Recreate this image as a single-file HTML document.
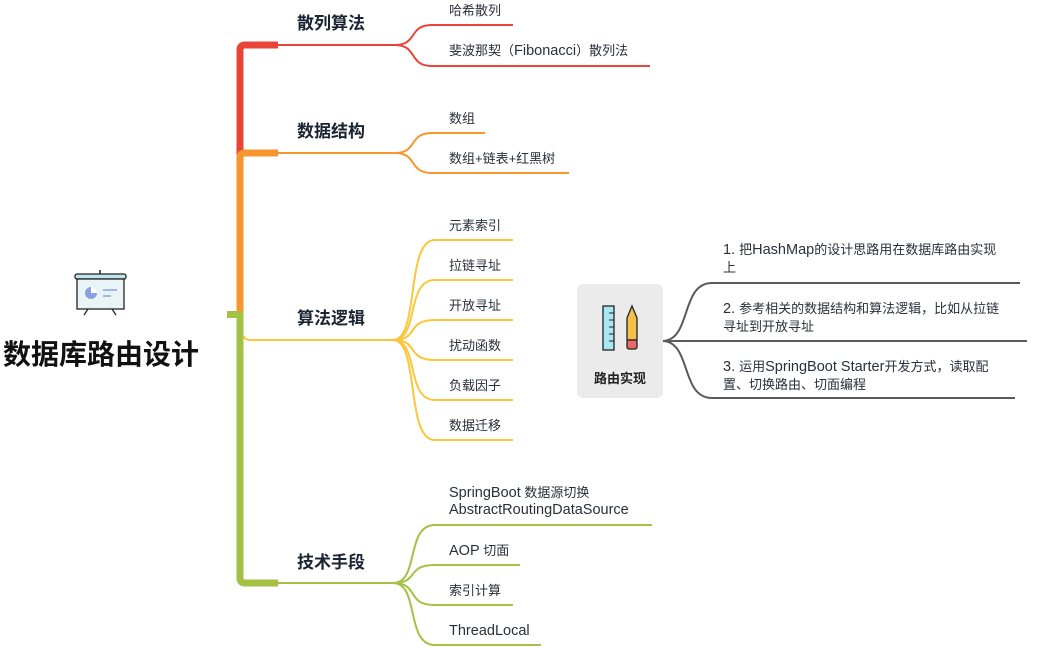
<!DOCTYPE html>
<html><head><meta charset="utf-8"><style>
html,body{margin:0;padding:0;background:#fff;}
body{width:1037px;height:648px;overflow:hidden;position:relative;font-family:"Liberation Sans","Noto Sans CJK SC",sans-serif;}
svg{position:absolute;left:0;top:0;}
.l{font-size:14.5px;}
</style></head><body>
<svg width="1037" height="648" viewBox="0 0 1037 648" xmlns="http://www.w3.org/2000/svg" font-family="Liberation Sans, Noto Sans CJK SC, sans-serif">
<g fill="none" stroke-linecap="butt">
<path d="M240,155 V50 Q240,45 245,45 H278" stroke="#e8443a" stroke-width="7"/>
<path d="M276,45 H395 C418,45 408,25 432,25 H513" stroke="#e8443a" stroke-width="2"/>
<path d="M395,45 C418,45 408,66 432,66 H650" stroke="#e8443a" stroke-width="2"/>
<path d="M240,315 V158 Q240,153 245,153 H278" stroke="#f7952f" stroke-width="7"/>
<path d="M276,153 H395 C418,153 408,133 432,133 H485" stroke="#f7952f" stroke-width="2"/>
<path d="M395,153 C418,153 408,173 432,173 H569" stroke="#f7952f" stroke-width="2"/>
<path d="M240,312 V578 Q240,583 245,583 H278" stroke="#a3c244" stroke-width="7"/>
<rect x="227" y="311" width="16" height="7" fill="#a3c244" stroke="none"/>
<path d="M244,336 Q244,340 252,340 H395" stroke="#fbc63a" stroke-width="2"/>
<g stroke="#fbc63a" stroke-width="2">
<path d="M393,340 C420,340 405,240 435,240 H513"/>
<path d="M393,340 C420,340 405,280 435,280 H513"/>
<path d="M393,340 C420,340 405,320 435,320 H513"/>
<path d="M393,340 C420,340 405,360 435,360 H513"/>
<path d="M393,340 C420,340 405,400 435,400 H513"/>
<path d="M393,340 C420,340 405,440 435,440 H513"/>
</g>
<g stroke="#a3c244" stroke-width="2">
<path d="M276,583 H393 C420,583 405,525 435,525 H652"/>
<path d="M393,583 C420,583 405,565 435,565 H520"/>
<path d="M393,583 C420,583 405,605 435,605 H513"/>
<path d="M393,583 C420,583 405,645 435,645 H541"/>
</g>
<g stroke="#5a5a5a" stroke-width="2">
<path d="M662,341 C692,341 680,283 712,283 H1020"/>
<path d="M662,341 H1027"/>
<path d="M662,341 C692,341 680,398 712,398 H1015"/>
</g>
</g>
<g>
<line x1="100" y1="270" x2="100" y2="274" stroke="#222" stroke-width="1.5"/>
<rect x="75" y="274" width="51" height="5" rx="2" fill="#bfe4ee" stroke="#222" stroke-width="1.3"/>
<rect x="77" y="279" width="47" height="30" fill="#e8f4f6" stroke="#222" stroke-width="1.3"/>
<circle cx="91" cy="293" r="6" fill="#8aa0e0"/>
<path d="M91,293 V287 A6,6 0 0 1 97,293 Z" fill="#fff"/>
<line x1="103" y1="290" x2="117" y2="290" stroke="#8aa0e0" stroke-width="1.5"/>
<line x1="103" y1="296" x2="111" y2="296" stroke="#8aa0e0" stroke-width="1.5"/>
<line x1="88" y1="309" x2="84" y2="315" stroke="#222" stroke-width="1.3"/>
<line x1="112" y1="309" x2="116" y2="315" stroke="#222" stroke-width="1.3"/>
</g>
<text x="3" y="364" font-size="28" font-weight="bold" fill="#111">数据库路由设计</text>
<g font-size="17" font-weight="bold" fill="#1c2433">
<text x="297" y="29">散列算法</text>
<text x="297" y="137">数据结构</text>
<text x="297" y="324">算法逻辑</text>
<text x="297" y="568">技术手段</text>
</g>
<g font-size="13" fill="#2a2f3a">
<text x="449" y="15">哈希散列</text>
<text x="449" y="55">斐波那契（<tspan class="l">Fibonacci</tspan>）散列法</text>
<text x="449" y="123">数组</text>
<text x="449" y="163">数组+链表+红黑树</text>
<text x="449" y="230">元素索引</text>
<text x="449" y="270">拉链寻址</text>
<text x="449" y="310">开放寻址</text>
<text x="449" y="350">扰动函数</text>
<text x="449" y="390">负载因子</text>
<text x="449" y="430">数据迁移</text>
<text x="449" y="497"><tspan class="l">SpringBoot</tspan> 数据源切换</text>
<text x="449" y="514" class="l">AbstractRoutingDataSource</text>
<text x="449" y="555"><tspan class="l">AOP</tspan> 切面</text>
<text x="449" y="595">索引计算</text>
<text x="449" y="635" class="l">ThreadLocal</text>
<text x="723" y="254"><tspan class="l">1. </tspan>把<tspan class="l">HashMap</tspan>的设计思路用在数据库路由实现</text>
<text x="723" y="272">上</text>
<text x="723" y="313"><tspan class="l">2. </tspan>参考相关的数据结构和算法逻辑，比如从拉链</text>
<text x="723" y="331">寻址到开放寻址</text>
<text x="723" y="371"><tspan class="l">3. </tspan>运用<tspan class="l">SpringBoot Starter</tspan>开发方式，读取配</text>
<text x="723" y="389">置、切换路由、切面编程</text>
</g>
<rect x="577" y="284" width="86" height="114" rx="6" fill="#ebebeb"/>
<rect x="603" y="306" width="11" height="44" fill="#a8e6f0" stroke="#222" stroke-width="1.3"/>
<g stroke="#222" stroke-width="1"><line x1="609" y1="313" x2="614" y2="313"/><line x1="609" y1="320" x2="614" y2="320"/><line x1="609" y1="327" x2="614" y2="327"/><line x1="609" y1="334" x2="614" y2="334"/><line x1="609" y1="341" x2="614" y2="341"/></g>
<path d="M627,318 L632,306 L637,318 V340 H627 Z" fill="#f5c04a" stroke="#222" stroke-width="1.3"/>
<rect x="627" y="340" width="10" height="9" rx="2" fill="#e86a6a" stroke="#222" stroke-width="1.3"/>
<text x="620" y="383" font-size="13" text-anchor="middle" fill="#222" font-weight="bold">路由实现</text>
</svg>
</body></html>
